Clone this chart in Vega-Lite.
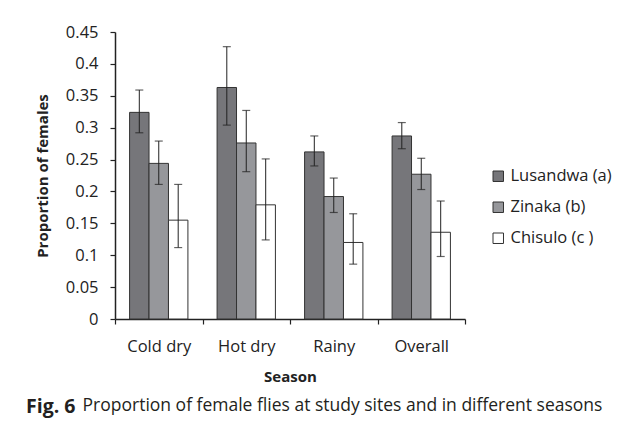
{
  "$schema": "https://vega.github.io/schema/vega-lite/v6.json",
  "width": 350,
  "height": 287,
  "padding": {"left": 26, "top": 24, "right": 5, "bottom": 5},
  "background": "white",
  "config": {
    "font": "Open Sans",
    "view": {"stroke": null},
    "axis": {"grid": false, "domainColor": "#222", "tickColor": "#222", "labelColor": "#222", "titleColor": "#222", "domainWidth": 1.5, "tickWidth": 1.2}
  },
  "title": {
    "text": "Fig. 6",
    "subtitle": "\u2800\u2800\u2800\u2800\u00a0Proportion of female flies at study sites and in different seasons",
    "orient": "bottom",
    "anchor": "start",
    "frame": "group",
    "dx": -89,
    "offset": 13,
    "fontSize": 19.5,
    "fontWeight": "bold",
    "color": "#231f20",
    "subtitleFontSize": 17.5,
    "subtitleColor": "#231f20",
    "subtitleFont": "Open Sans",
    "subtitlePadding": -20
  },
  "data": {
    "values": [
      {"Season": "Cold dry", "Site": "Lusandwa (a)", "value": 0.324, "lo": 0.292, "hi": 0.359},
      {"Season": "Cold dry", "Site": "Zinaka (b)", "value": 0.244, "lo": 0.211, "hi": 0.279},
      {"Season": "Cold dry", "Site": "Chisulo (c )", "value": 0.155, "lo": 0.112, "hi": 0.211},
      {"Season": "Hot dry", "Site": "Lusandwa (a)", "value": 0.363, "lo": 0.304, "hi": 0.427},
      {"Season": "Hot dry", "Site": "Zinaka (b)", "value": 0.276, "lo": 0.231, "hi": 0.327},
      {"Season": "Hot dry", "Site": "Chisulo (c )", "value": 0.179, "lo": 0.124, "hi": 0.251},
      {"Season": "Rainy", "Site": "Lusandwa (a)", "value": 0.262, "lo": 0.240, "hi": 0.287},
      {"Season": "Rainy", "Site": "Zinaka (b)", "value": 0.192, "lo": 0.167, "hi": 0.221},
      {"Season": "Rainy", "Site": "Chisulo (c )", "value": 0.120, "lo": 0.086, "hi": 0.165},
      {"Season": "Overall", "Site": "Lusandwa (a)", "value": 0.287, "lo": 0.267, "hi": 0.308},
      {"Season": "Overall", "Site": "Zinaka (b)", "value": 0.227, "lo": 0.203, "hi": 0.252},
      {"Season": "Overall", "Site": "Chisulo (c )", "value": 0.136, "lo": 0.098, "hi": 0.185}
    ]
  },
  "encoding": {
    "x": {
      "field": "Season", "type": "nominal", "sort": ["Cold dry", "Hot dry", "Rainy", "Overall"],
      "scale": {"paddingInner": 0, "paddingOuter": 0},
      "axis": {"labelAngle": 0, "tickBand": "extent", "tickSize": 5, "labelFontSize": 16.5, "labelPadding": 14, "title": "Season", "titleFontSize": 15, "titleFontWeight": "bold", "titlePadding": 15}
    },
    "xOffset": {
      "field": "Site", "type": "nominal", "sort": ["Lusandwa (a)", "Zinaka (b)", "Chisulo (c )"],
      "scale": {"paddingInner": 0, "paddingOuter": 0.75}
    }
  },
  "layer": [
    {
      "mark": {"type": "bar", "stroke": "#333", "strokeWidth": 1},
      "encoding": {
        "y": {
          "field": "value", "type": "quantitative",
          "scale": {"domain": [0, 0.45], "nice": false},
          "axis": {"values": [0, 0.05, 0.1, 0.15, 0.2, 0.25, 0.3, 0.35, 0.4, 0.45], "tickCount": 10, "format": ".2~f", "labelOverlap": false, "tickSize": 5, "labelFontSize": 16.5, "labelPadding": 12, "title": "Proportion of females", "titleFontSize": 15, "titleFontWeight": "bold", "titlePadding": 15}
        },
        "fill": {
          "field": "Site", "type": "nominal", "sort": ["Lusandwa (a)", "Zinaka (b)", "Chisulo (c )"],
          "scale": {"domain": ["Lusandwa (a)", "Zinaka (b)", "Chisulo (c )"], "range": ["#76767a", "#96979b", "#ffffff"]},
          "legend": {"title": null, "orient": "none", "legendX": 375, "legendY": 136, "symbolType": "square", "symbolSize": 110, "symbolStrokeColor": "#333", "symbolStrokeWidth": 1, "symbolOpacity": 1, "labelFontSize": 16.5, "labelColor": "#222", "rowPadding": 14, "labelOffset": 4}
        }
      }
    },
    {
      "mark": {"type": "rule", "color": "#222", "strokeWidth": 1},
      "encoding": {
        "y": {"field": "lo", "type": "quantitative",
          "axis": {"values": [0, 0.05, 0.1, 0.15, 0.2, 0.25, 0.3, 0.35, 0.4, 0.45], "tickCount": 10, "format": ".2~f", "labelOverlap": false, "tickSize": 5, "labelFontSize": 16.5, "labelPadding": 12, "title": "Proportion of females", "titleFontSize": 15, "titleFontWeight": "bold", "titlePadding": 15}},
        "y2": {"field": "hi"}
      }
    },
    {
      "mark": {"type": "tick", "color": "#222", "thickness": 1.2, "size": 8},
      "encoding": {"y": {"field": "lo", "type": "quantitative",
          "axis": {"values": [0, 0.05, 0.1, 0.15, 0.2, 0.25, 0.3, 0.35, 0.4, 0.45], "tickCount": 10, "format": ".2~f", "labelOverlap": false, "tickSize": 5, "labelFontSize": 16.5, "labelPadding": 12, "title": "Proportion of females", "titleFontSize": 15, "titleFontWeight": "bold", "titlePadding": 15}}}
    },
    {
      "mark": {"type": "tick", "color": "#222", "thickness": 1.2, "size": 8},
      "encoding": {"y": {"field": "hi", "type": "quantitative",
          "axis": {"values": [0, 0.05, 0.1, 0.15, 0.2, 0.25, 0.3, 0.35, 0.4, 0.45], "tickCount": 10, "format": ".2~f", "labelOverlap": false, "tickSize": 5, "labelFontSize": 16.5, "labelPadding": 12, "title": "Proportion of females", "titleFontSize": 15, "titleFontWeight": "bold", "titlePadding": 15}}}
    }
  ]
}
